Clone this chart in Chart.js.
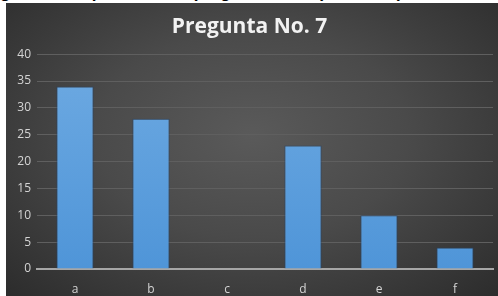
<!DOCTYPE html>
<html>
<head>
<meta charset="utf-8">
<script src="https://cdn.jsdelivr.net/npm/chart.js@4"></script>
<style>
  html, body { margin: 0; padding: 0; background: #fff; width: 498px; height: 296px; overflow: hidden; }
  #caption { position: absolute; left: 0; top: -17px; font: bold 17px "Liberation Sans", Arial, sans-serif; color: #000; white-space: nowrap; }
  #box { position: absolute; left: 6px; top: 3px; width: 492px; height: 293px;
         background: radial-gradient(ellipse at 50% 45%, #5a5a5a 0%, #4a4a4a 45%, #2c2c2c 100%); }
</style>
</head>
<body>
<div id="caption">gura 8. Respuestas a la pregunta No. 7 (encuesta)</div>
<div id="box"><canvas id="grafico" width="492" height="293"></canvas></div>
<script>
const categorias = ['a', 'b', 'c', 'd', 'e', 'f'];
const respuestas = [34, 28, 0, 23, 10, 4];
const titulo = 'Pregunta No. 7';

const ctx = document.getElementById('grafico').getContext('2d');

// degradado azul de las barras
function colorBarra(context) {
    const area = context.chart.chartArea;
    if (!area) return '#5b9bd5';
    const g = context.chart.ctx.createLinearGradient(0, area.top, 0, area.bottom);
    g.addColorStop(0, '#6eaae2');
    g.addColorStop(1, '#4f95d8');
    return g;
}

const grafico = new Chart(ctx, {
    type: 'bar',
    data: {
        labels: categorias,
        datasets: [{
            data: respuestas,
            backgroundColor: colorBarra,
            borderColor: 'rgba(35, 70, 110, 0.7)',
            borderWidth: 1,
            barPercentage: 0.49,
            categoryPercentage: 1
        }]
    },
    options: {
        responsive: false,
        animation: false,
        layout: { padding: { left: 0, right: 5, top: 0, bottom: 0 } },
        plugins: {
            legend: { display: false },
            tooltip: { enabled: false },
            title: {
                display: true,
                text: titulo,
                color: '#f2f2f2',
                font: { family: 'Open Sans', size: 21, weight: 'bold' },
                padding: { top: 11, bottom: 15 }
            }
        },
        scales: {
            y: {
                min: 0,
                max: 40,
                ticks: { stepSize: 5, color: '#d4d4d4', font: { family: 'Open Sans', size: 12 }, padding: 6 },
                grid: { color: '#5f5f5f', lineWidth: 1, drawTicks: false },
                border: { display: false },
                afterFit: (scale) => { scale.width = 31; }
            },
            x: {
                ticks: { color: '#d4d4d4', font: { family: 'Open Sans', size: 12 }, padding: 5 },
                grid: { display: false },
                border: { color: '#a6a6a6', width: 2 },
                afterFit: (scale) => { scale.height = 27; }
            }
        }
    }
});
</script>
</body>
</html>
